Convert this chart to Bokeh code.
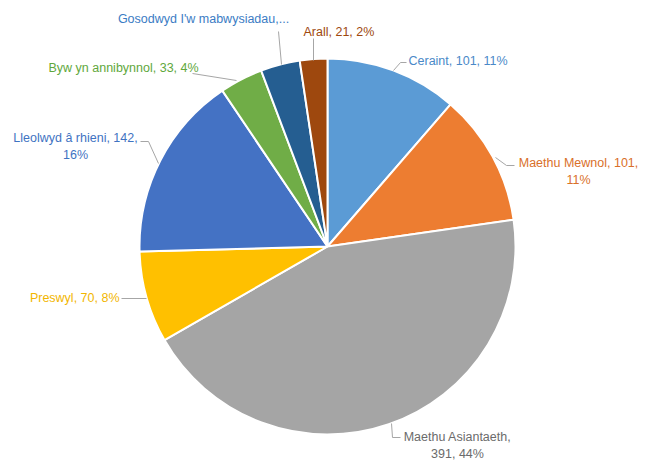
import math
from bokeh.plotting import figure
from bokeh.models import Range1d, ColumnDataSource
from bokeh.embed import file_html
from bokeh.resources import INLINE
from bokeh.core.properties import value

# ---- data ----
categories = ["Ceraint", "Maethu Mewnol", "Maethu Asiantaeth", "Preswyl",
              "Lleolwyd â rhieni", "Byw yn annibynnol", "Gosodwyd I'w mabwysiadau", "Arall"]
values = [101, 101, 391, 70, 142, 33, 30, 21]
label_texts = ["Ceraint, 101, 11%", "Maethu Mewnol, 101,\n11%", "Maethu Asiantaeth,\n391, 44%",
               "Preswyl, 70, 8%", "Lleolwyd â rhieni, 142,\n16%", "Byw yn annibynnol, 33, 4%",
               "Gosodwyd I'w mabwysiadau,...", "Arall, 21, 2%"]
slice_colors = ["#5B9BD5", "#ED7D31", "#A5A5A5", "#FFC000", "#4472C4", "#70AD47", "#255E91", "#9E480E"]
text_colors = ["#4A89C8", "#D9702A", "#6B6B6B", "#F2B600", "#3F73C2", "#5FA83C", "#3B7CC4", "#9E480E"]

# ---- layout (image pixel coords) ----
OFF = 0
W, H = 652, 462
def px(x): return x - OFF
def py(y): return H + OFF - y

cx, cy, R = 327, 246, 188
label_pos = [(408, 53, "left"), (578, 155, "center"), (457, 429, "center"), (119, 290, "right"),
             (75, 130, "center"), (48, 60, "left"), (203, 11, "center"), (303, 24, "left")]
leaders = [[(406, 62), (400, 62), (393, 70)],
           [(514, 165), (506, 165), (495, 157)],
           [(400, 437), (392, 437), (391, 423)],
           [(121, 298), (146, 298)],
           [(140, 141), (148, 141), (158, 163)],
           [(192, 73), (236, 80)],
           [(278, 31), (281, 64)],
           [(313, 38), (313, 60)]]

total = sum(values)
starts, ends = [], []
cum = 0
for v in values:
    starts.append(math.pi / 2 - cum / total * 2 * math.pi)
    cum += v
    ends.append(math.pi / 2 - cum / total * 2 * math.pi)

p = figure(width=W, height=H, output_backend="svg", toolbar_location=None,
           x_range=Range1d(0, W), y_range=Range1d(0, H), min_border=0)
p.axis.visible = False
p.grid.visible = False
p.outline_line_color = None

src = ColumnDataSource(dict(start=starts, end=ends, color=slice_colors,
                            x=[px(cx)] * len(values), y=[py(cy)] * len(values)))
p.wedge(x="x", y="y", radius=R, radius_units="screen", start_angle="start", end_angle="end",
        direction="clock", fill_color="color", line_color="white", line_width=2, source=src)

p.multi_line(xs=[[px(a) for a, b in l] for l in leaders],
             ys=[[py(b) for a, b in l] for l in leaders],
             line_color="#A6A6A6", line_width=1)

for (lx, ly, al), t, c in zip(label_pos, label_texts, text_colors):
    p.text(x=[px(lx)], y=[py(ly)], text=[t], text_align=al, text_baseline="top",
           text_color=c, text_font=value("Liberation Sans"), text_font_size="12.5px",
           text_line_height=1.25)

open("out.html", "w").write(file_html(p, INLINE))
